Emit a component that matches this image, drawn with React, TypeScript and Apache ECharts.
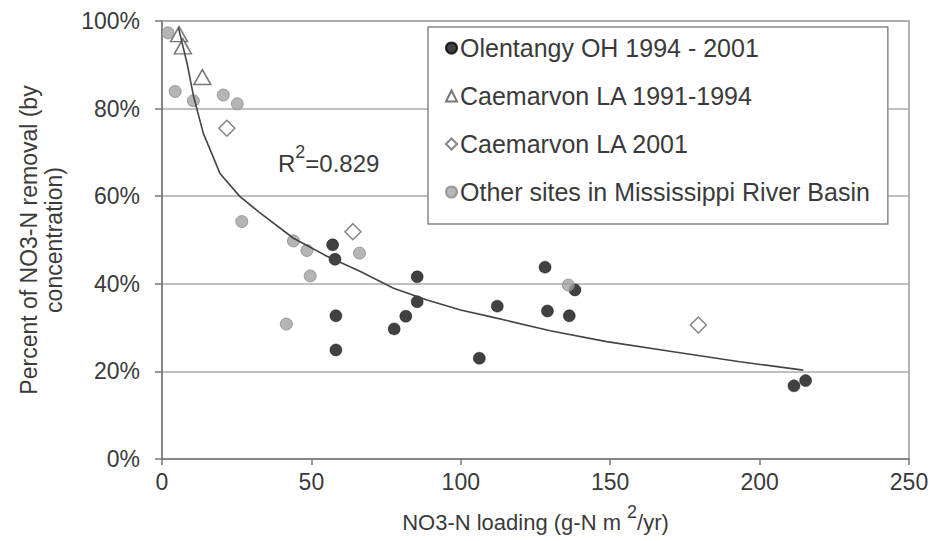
import React, { useEffect, useRef } from "react";
import * as echarts from "echarts";

const olentangy: number[][] = [
  [57.1, 48.9], [57.9, 45.6], [58.2, 32.7], [58.2, 24.9], [77.7, 29.7], [81.6, 32.6],
  [85.4, 41.6], [85.4, 35.9], [106.2, 23.0], [112.2, 34.9], [128.2, 43.8], [129.0, 33.8],
  [136.3, 32.7], [138.2, 38.6], [211.5, 16.7], [215.4, 17.9],
];
const caemarvon9194: number[][] = [[5.7, 97.0], [7.0, 94.2], [13.5, 87.2]];
const caemarvon2001: number[][] = [[21.7, 75.5], [63.9, 51.9], [179.5, 30.6]];
const otherSites: number[][] = [
  [2.0, 97.3], [4.4, 83.9], [10.5, 81.8], [20.5, 83.1], [25.2, 81.1], [26.7, 54.2],
  [41.6, 30.8], [44.0, 49.8], [48.5, 47.6], [49.6, 41.8], [66.1, 47.0], [136.0, 39.7],
];
const trendline: number[][] = [
  [5.5, 98.5], [8.5, 90.0], [10.5, 83.0], [13.8, 74.4], [19.4, 65.2], [26.1, 59.9],
  [32.8, 56.2], [44.0, 50.4], [55.2, 46.3], [66.4, 42.8], [77.5, 39.0], [88.7, 36.3],
  [99.9, 34.0], [109.8, 32.5], [129.9, 29.3], [148.8, 26.8], [171.1, 24.5], [193.4, 22.2],
  [214.6, 20.3],
];
const seriesNames = [
  "Olentangy OH 1994 - 2001",
  "Caemarvon LA 1991-1994",
  "Caemarvon LA 2001",
  "Other sites in Mississippi River Basin",
];
const rSquared = "0.829";

const FONT = "'Liberation Sans', Arial, sans-serif";
const TXT = "#3a3a3a";

export default function App() {
  const ref = useRef<HTMLDivElement>(null);
  useEffect(() => {
    if (!ref.current) return;
    const chart = echarts.init(ref.current, null, { renderer: "svg" });
    chart.setOption({
      animation: false,
      backgroundColor: "#fff",
      textStyle: { fontFamily: FONT },
      grid: {
        left: 162, right: 26, top: 21, bottom: 82,
        show: true, borderColor: "#999", borderWidth: 1.5, backgroundColor: "transparent",
      },
      legend: {
        orient: "vertical",
        left: 428,
        top: 27,
        padding: [8, 18, 19, 17],
        itemGap: 22,
        itemWidth: 11,
        itemHeight: 11,
        backgroundColor: "#fff",
        borderColor: "#888",
        borderWidth: 1.5,
        borderRadius: 0,
        data: seriesNames,
        textStyle: { fontSize: 25, color: TXT, fontFamily: FONT, lineHeight: 26, padding: [0, 0, 0, -2] },
      },
      xAxis: {
        type: "value",
        min: 0, max: 250, interval: 50,
        name: "{a|NO3-N loading (g-N m }{s|2}{a|/yr)}",
        nameLocation: "middle",
        nameGap: 44,
        nameTextStyle: {
          rich: {
            a: { fontSize: 22, color: TXT, fontFamily: FONT, lineHeight: 30, verticalAlign: "bottom" },
            s: { fontSize: 18, color: TXT, fontFamily: FONT, lineHeight: 30, verticalAlign: "top" },
          },
        },
        axisLine: { show: true, lineStyle: { color: "#777", width: 1.5 } },
        axisTick: { show: true, length: 6, lineStyle: { color: "#777", width: 1.5 } },
        axisLabel: { fontSize: 23, color: TXT, margin: 11, fontFamily: FONT },
        splitLine: { show: false },
      },
      yAxis: {
        type: "value",
        min: 0, max: 100, interval: 20,
        name: "Percent of NO3-N removal (by\nconcentration)",
        nameLocation: "middle",
        nameGap: 96,
        nameTextStyle: { fontSize: 23, color: TXT, fontFamily: FONT, lineHeight: 25, align: "center" },
        axisLine: { show: true, lineStyle: { color: "#777", width: 1.5 } },
        axisTick: { show: true, length: 7, lineStyle: { color: "#777", width: 1.5 } },
        axisLabel: { fontSize: 23, color: TXT, margin: 22, formatter: "{value}%", fontFamily: FONT },
        splitLine: { show: true, lineStyle: { color: "#aaa", width: 1.5 } },
      },
      series: [
        {
          name: seriesNames[0], type: "scatter", data: olentangy, symbol: "circle", symbolSize: 12,
          itemStyle: { color: "#111", borderColor: "#000", borderWidth: 0.5 }, z: 3,
        },
        {
          name: seriesNames[1], type: "scatter", data: caemarvon9194, symbol: "triangle", symbolSize: [17, 15],
          itemStyle: { color: "#fff", borderColor: "#555", borderWidth: 1.5 }, z: 3,
        },
        {
          name: seriesNames[2], type: "scatter", data: caemarvon2001, symbol: "diamond", symbolSize: 16,
          itemStyle: { color: "#fff", borderColor: "#666", borderWidth: 1.5 }, z: 3,
        },
        {
          name: seriesNames[3], type: "scatter", data: otherSites, symbol: "circle", symbolSize: 12,
          itemStyle: { color: "#a3a3a3", borderColor: "#8a8a8a", borderWidth: 1 }, z: 3,
        },
        {
          name: "trend", type: "line", data: trendline, showSymbol: false, symbol: "none",
          lineStyle: { color: "#444", width: 1.6 }, z: 4, silent: true,
        },
      ],
      graphic: [
        {
          type: "text",
          left: 278,
          top: 143,
          z: 10,
          style: {
            text: "{a|R}{s|2}{a|=" + rSquared + "}",
            rich: {
              a: { fontSize: 24, fill: TXT, fontFamily: FONT, lineHeight: 32, verticalAlign: "bottom" },
              s: { fontSize: 18, fill: TXT, fontFamily: FONT, lineHeight: 32, verticalAlign: "top" },
            },
          },
        },
      ],
    });
    return () => chart.dispose();
  }, []);
  return <div ref={ref} style={{ width: 935, height: 541, position: "absolute", left: 0, top: 0 }} />;
}
